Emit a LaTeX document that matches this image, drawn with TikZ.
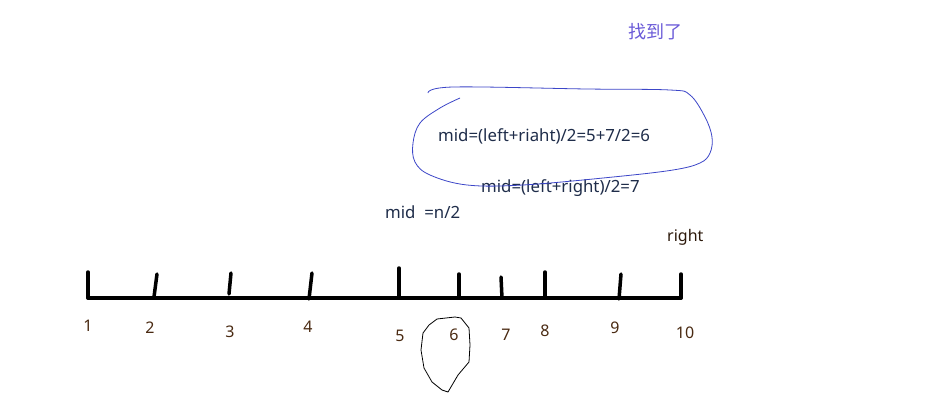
\documentclass[tikz,border=0pt]{standalone}
\usepackage{fontspec}
\setmainfont{Noto Sans}
\newfontfamily\cjk{Noto Sans CJK SC}
\begin{document}
\begin{tikzpicture}[x=1pt,y=-1pt,
  tick/.style={line width=3.5pt,line cap=round},
  num/.style={text=numcol,font=\fontsize{16}{18}\selectfont,inner sep=0pt},
  lbl/.style={text=txtcol,font=\fontsize{16.8}{19}\selectfont,inner sep=0pt,anchor=west},
  ]
\definecolor{numcol}{HTML}{4A2A12}
\definecolor{txtcol}{HTML}{1F2D4A}
\definecolor{bluecol}{HTML}{3C46C8}
\definecolor{purp}{HTML}{6A5AD8}
\useasboundingbox[fill=white] (0,0) rectangle (940,418);
% baseline
\coordinate (L) at (88,298);
\coordinate (R) at (681,298);
\draw[tick] (L) -- (R);
% ticks
\coordinate (t1a) at (88,272); \coordinate (t1b) at (88,298);
\coordinate (t2a) at (157,274); \coordinate (t2b) at (154,297);
\coordinate (t3a) at (231,273); \coordinate (t3b) at (229,294);
\coordinate (t4a) at (312,273); \coordinate (t4b) at (309,299);
\coordinate (t5a) at (399,268); \coordinate (t5b) at (399,298);
\coordinate (t6a) at (459,274); \coordinate (t6b) at (459,298);
\coordinate (t7a) at (501,277); \coordinate (t7b) at (502,298);
\coordinate (t8a) at (545,272); \coordinate (t8b) at (545,298);
\coordinate (t9a) at (621,274); \coordinate (t9b) at (619,299);
\coordinate (t10a) at (681,274); \coordinate (t10b) at (681,298);
\foreach \i in {1,...,10} \draw[tick] (t\i a) -- (t\i b);
% numbers
\node[num] (n1) at (88,326) {1};
\node[num] (n2) at (150,328) {2};
\node[num] (n3) at (230,332) {3};
\node[num] (n4) at (308,327) {4};
\node[num] (n5) at (400,336) {5};
\node[num] (n6) at (454,335) {6};
\node[num] (n7) at (506,335) {7};
\node[num] (n8) at (545,331) {8};
\node[num] (n9) at (615,328) {9};
\node[num] (n10) at (685,333) {10};
% small loop around 6
\draw[line width=0.8pt] (437,319) -- (455,317) -- (461,318) -- (469,328) -- (470,345) -- (469,362) -- (458,375) -- (448,392) -- (442,390) -- (432,382) -- (424,368) -- (421,350) -- (423,333) -- (429,325) -- cycle;
% texts
\node[lbl] (m1) at (438,136) {mid=(left+riaht)/2=5+7/2=6};
\node[lbl] (m2) at (481,188) {mid=(left+right)/2=7};
\node[lbl] (m3) at (385,212) {mid\ \ =n/2};
\node[lbl,text=numcol!60!black,font=\fontsize{16}{18}\selectfont] (rt) at (667,237) {right};
\node[lbl,text=purp,font=\cjk\fontsize{18}{20}\selectfont] (found) at (628,32) {找到了};
% big blue loop
\draw[bluecol,line width=0.8pt] plot[smooth,tension=0.6] coordinates {
 (428,93) (453,87) (587,89) (670,90) (690,95) (705,117) (712,137) (710,153)
 (700,163) (673,170) (613,177) (523,185) (467,185) (430,175) (415,162)
 (413,143) (420,123) (440,108) (460,98)};
\end{tikzpicture}
\end{document}
